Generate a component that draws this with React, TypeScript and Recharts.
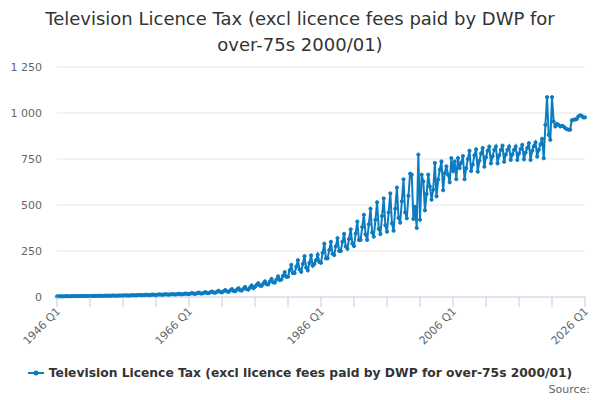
import React from "react";
import { LineChart, Line, XAxis, YAxis, CartesianGrid } from "recharts";

const START_YEAR = 1946;
const END_YEAR = 2026;
const SERIES_NAME =
  "Television Licence Tax (excl licence fees paid by DWP for over-75s 2000/01)";

// 1946 Q1 – 1975 Q4
const earlyValues = [
  3, 4, 4, 4, 4, 4, 5, 4, 4, 5, 5, 5, 5, 5, 5, 5, 5, 5, 6, 5,
  5, 6, 6, 6, 6, 6, 7, 6, 6, 7, 7, 7, 7, 7, 8, 7, 7, 8, 8, 8,
  8, 9, 9, 8, 8, 9, 10, 9, 9, 10, 11, 10, 10, 11, 12, 11, 10, 12, 13, 12,
  11, 13, 14, 13, 12, 14, 15, 13, 13, 15, 16, 14, 14, 16, 18, 15, 15, 17, 19, 16,
  16, 19, 21, 18, 17, 21, 24, 19, 19, 23, 27, 21, 21, 26, 30, 24, 23, 29, 34, 27,
  25, 32, 38, 30, 28, 36, 43, 33, 31, 40, 48, 37, 35, 45, 55, 42, 40, 52, 63, 48,
];

// 1976 Q1 – 2005 Q4
const midValues = [
  55, 66, 75, 62, 60, 73, 85, 70, 68, 84, 98, 80, 78, 95, 112, 92,
  95, 115, 135, 110, 110, 145, 175, 130, 130, 165, 200, 150, 137, 180, 222, 160,
  145, 185, 226, 170, 180, 200, 230, 190, 186, 240, 290, 210, 210, 255, 300, 235,
  228, 275, 320, 250, 250, 300, 343, 275, 262, 315, 368, 290, 277, 345, 410, 310,
  310, 380, 447, 340, 310, 395, 480, 350, 328, 420, 515, 370, 342, 440, 536, 390,
  355, 460, 563, 400, 360, 480, 595, 430, 404, 520, 640, 460, 428, 550, 670, 665,
  424, 490, 375, 774, 420, 665, 629, 471, 560, 665, 600, 529, 583, 728, 547, 638,
  692, 737, 580, 674, 710, 665, 623, 755,
];

// 2006 Q1 – 2026 Q1
const lateValues = [
  683, 737, 640, 755, 700, 730, 766, 640, 700, 750, 795, 685, 720, 770, 803, 681,
  740, 780, 810, 708, 760, 795, 818, 726, 765, 800, 818, 726, 770, 800, 823, 735,
  775, 800, 818, 745, 775, 800, 818, 745, 780, 805, 827, 748, 785, 810, 836, 745,
  795, 820, 840, 763, 800, 830, 860, 754, 936, 1086, 881, 854, 1086, 954, 927, 940,
  935, 927, 930, 927, 918, 912, 909, 909, 960, 963, 965, 967, 982, 987, 985, 976,
  976,
];

const values = [...earlyValues, ...midValues, ...lateValues];

const categories: string[] = [];
for (let y = START_YEAR; y <= END_YEAR; y++) {
  for (let q = 1; q <= 4; q++) {
    if (categories.length < values.length) categories.push(`${y} Q${q}`);
  }
}

const yTicks = [0, 250, 500, 750, 1000, 1250];
const xTickIdx: number[] = [];
for (let i = 0; i < categories.length; i += 20) xTickIdx.push(i);
const xLabelEvery = 80;

const data = values.map((v, i) => ({ i, label: categories[i], value: v }));

const COLOR = "#0c7cc1";
const AXIS_COLOR = "#ccd6eb";
const TICK_COLOR = "#bfcbe3";
const FONT = "'DejaVu Sans', Verdana, sans-serif";

const fmt = (v: number) => String(v).replace(/\B(?=(\d{3})+(?!\d))/g, " ");

const XTick = (props: any) => {
  const { x, y, payload } = props;
  const idx = payload.value as number;
  const axisY = y - 12;
  const tx = x + 4;
  const ty = y + 3;
  return (
    <g>
      <rect x={Math.round(x) - 0.5} y={axisY} width={1} height={10} fill={TICK_COLOR} />
      {idx % xLabelEvery === 0 ? (
        <text
          x={tx}
          y={ty}
          textAnchor="end"
          fill="#666666"
          fontSize={11}
          fontFamily={FONT}
          transform={`rotate(-45 ${tx} ${ty})`}
        >
          {categories[idx]}
        </text>
      ) : null}
    </g>
  );
};

export default function App() {
  return (
    <div
      style={{
        position: "absolute",
        left: 0,
        top: 0,
        width: 600,
        height: 400,
        background: "#ffffff",
        fontFamily: FONT,
      }}
    >
      <div
        style={{
          position: "absolute",
          top: 6,
          left: 0,
          width: 600,
          textAlign: "center",
          fontSize: 18,
          lineHeight: "26px",
          color: "#333333",
        }}
      >
        Television Licence Tax (excl licence fees paid by DWP for
        <br />
        over-75s 2000/01)
      </div>
      <LineChart
        width={600}
        height={400}
        data={data}
        margin={{ top: 67, right: 15, bottom: 43, left: 0 }}
      >
        <CartesianGrid vertical={false} stroke="#e6e6e6" />
        <XAxis
          dataKey="i"
          type="number"
          domain={[0, categories.length - 1]}
          ticks={xTickIdx}
          interval={0}
          height={60}
          axisLine={{ stroke: AXIS_COLOR }}
          tickLine={false}
          tickSize={10}
          tickMargin={2}
          tick={<XTick />}
        />
        <YAxis
          domain={[0, 1250]}
          ticks={yTicks}
          width={57}
          axisLine={false}
          tickLine={false}
          tickSize={0}
          tickMargin={15}
          tickFormatter={fmt}
          tick={{ fill: "#666666", fontSize: 11, fontFamily: FONT }}
        />
        <Line
          type="linear"
          dataKey="value"
          stroke={COLOR}
          strokeWidth={2}
          dot={{ r: 1.6, fill: COLOR, stroke: COLOR, strokeWidth: 1 }}
          isAnimationActive={false}
        />
      </LineChart>
      <div
        style={{
          position: "absolute",
          top: 366,
          left: 0,
          width: 600,
          display: "flex",
          justifyContent: "center",
          alignItems: "center",
          fontSize: 12.3,
          fontWeight: "bold",
          color: "#333333",
        }}
      >
        <svg width={16} height={10} style={{ marginRight: 5 }}>
          <line x1={0} y1={5} x2={16} y2={5} stroke={COLOR} strokeWidth={2} />
          <circle cx={8} cy={5} r={2.5} fill={COLOR} />
        </svg>
        <span>{SERIES_NAME}</span>
      </div>
      <div
        style={{
          position: "absolute",
          top: 383,
          right: 10,
          fontSize: 11,
          color: "#666666",
        }}
      >
        Source:
      </div>
    </div>
  );
}
